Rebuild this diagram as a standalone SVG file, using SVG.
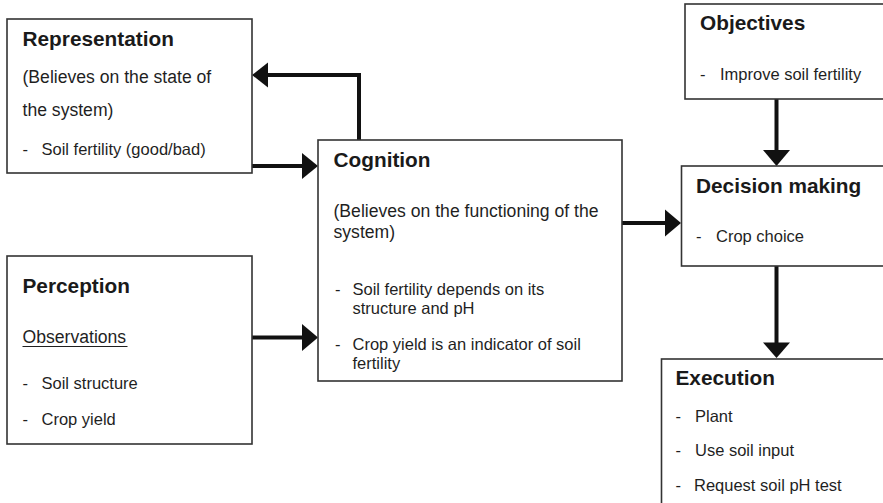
<svg xmlns="http://www.w3.org/2000/svg" width="883" height="503" viewBox="0 0 883 503">
  <style>
    .box { fill: #ffffff; stroke: #333333; stroke-width: 1.6; }
    .title { font-family: "Liberation Sans", Arial, sans-serif; font-size: 20.8px; font-weight: bold; fill: #1a1a1a; }
    .body { font-family: "Liberation Sans", Arial, sans-serif; font-size: 17.6px; fill: #1f1f1f; }
    .item { font-family: "Liberation Sans", Arial, sans-serif; font-size: 16.5px; fill: #1f1f1f; }
    .link { fill: none; stroke: #111111; stroke-width: 4; }
    .head { fill: #111111; }
  </style>
  <rect width="883" height="503" fill="#ffffff"/>

  <!-- connectors -->
  <g id="connectors">
    <!-- Cognition -> Representation (feedback) -->
    <polyline class="link" points="359,140 359,75 266,75"/>
    <polygon class="head" points="252,75 268,62.5 268,87.5"/>
    <!-- Representation -> Cognition -->
    <line class="link" x1="252" y1="166" x2="304" y2="166"/>
    <polygon class="head" points="318,166 302,153 302,179"/>
    <!-- Perception -> Cognition -->
    <line class="link" x1="252" y1="337.5" x2="304" y2="337.5"/>
    <polygon class="head" points="318,337.5 302,324 302,351"/>
    <!-- Cognition -> Decision making -->
    <line class="link" x1="622" y1="223" x2="667" y2="223"/>
    <polygon class="head" points="681,223 665,209.5 665,236.5"/>
    <!-- Objectives -> Decision making -->
    <line class="link" x1="776.5" y1="99" x2="776.5" y2="152"/>
    <polygon class="head" points="776.5,166 763,150 790,150"/>
    <!-- Decision making -> Execution -->
    <line class="link" x1="776.5" y1="266" x2="776.5" y2="344"/>
    <polygon class="head" points="776.5,358 763,342.5 790,342.5"/>
  </g>

  <g id="representation">
    <rect class="box" x="7" y="19" width="245" height="154"/>
    <text class="title" x="22.5" y="46">Representation</text>
    <text class="body" x="22.5" y="83">(Believes on the state of</text>
    <text class="body" x="22.5" y="116">the system)</text>
    <text class="item" x="22.5" y="155">-</text>
    <text class="item" x="41.5" y="155">Soil fertility (good/bad)</text>
  </g>

  <g id="perception">
    <rect class="box" x="7" y="256" width="245" height="188"/>
    <text class="title" x="22.5" y="293">Perception</text>
    <text class="body" x="22.5" y="342.5">Observations</text>
    <line x1="22.5" y1="346.5" x2="127.5" y2="346.5" stroke="#1f1f1f" stroke-width="1.2"/>
    <text class="item" x="22.5" y="389">-</text>
    <text class="item" x="41.5" y="389">Soil structure</text>
    <text class="item" x="22.5" y="425">-</text>
    <text class="item" x="41.5" y="425">Crop yield</text>
  </g>

  <g id="cognition">
    <rect class="box" x="318" y="140" width="304" height="241"/>
    <text class="title" x="333.5" y="166.5">Cognition</text>
    <text class="body" x="333.5" y="217">(Believes on the functioning of the</text>
    <text class="body" x="333.5" y="238">system)</text>
    <text class="item" x="335" y="295">-</text>
    <text class="item" x="352.5" y="295">Soil fertility depends on its</text>
    <text class="item" x="352.5" y="313.5">structure and pH</text>
    <text class="item" x="335" y="350">-</text>
    <text class="item" x="352.5" y="350">Crop yield is an indicator of soil</text>
    <text class="item" x="352.5" y="368.5">fertility</text>
  </g>

  <g id="objectives">
    <rect class="box" x="685" y="4" width="210" height="95"/>
    <text class="title" x="700" y="30">Objectives</text>
    <text class="item" x="700" y="80">-</text>
    <text class="item" x="720" y="80">Improve soil fertility</text>
  </g>

  <g id="decision-making">
    <rect class="box" x="681.5" y="166" width="215" height="100"/>
    <text class="title" x="696" y="193">Decision making</text>
    <text class="item" x="696" y="241.5">-</text>
    <text class="item" x="716" y="241.5">Crop choice</text>
  </g>

  <g id="execution">
    <rect class="box" x="661.5" y="359" width="235" height="160"/>
    <text class="title" x="675.5" y="385">Execution</text>
    <text class="item" x="675.5" y="421.5">-</text>
    <text class="item" x="695" y="421.5">Plant</text>
    <text class="item" x="675.5" y="455.5">-</text>
    <text class="item" x="695" y="455.5">Use soil input</text>
    <text class="item" x="675.5" y="490.5">-</text>
    <text class="item" x="694" y="490.5">Request soil pH test</text>
  </g>
</svg>
